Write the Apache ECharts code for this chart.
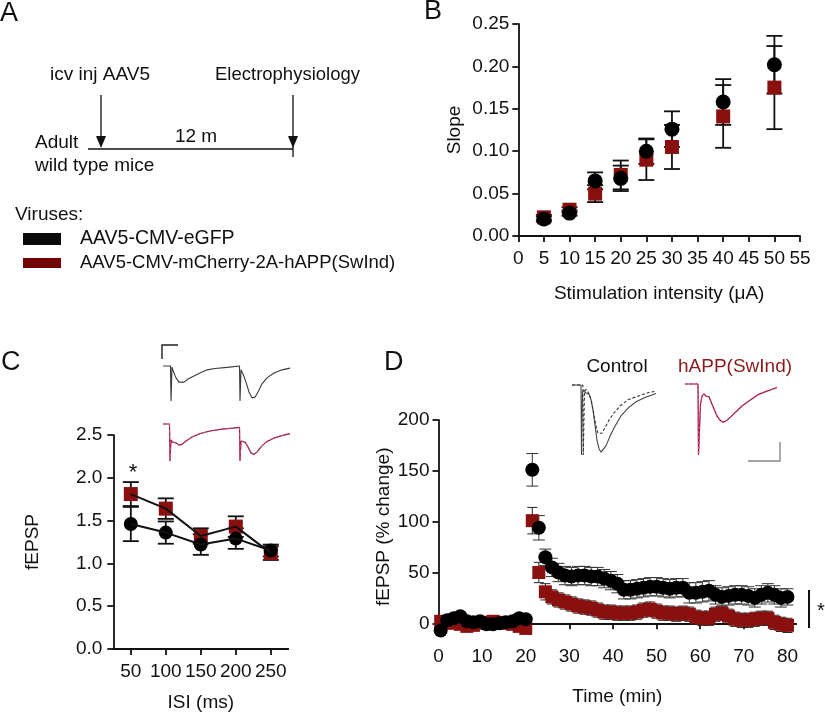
<!DOCTYPE html>
<html><head><meta charset="utf-8">
<script src="https://cdn.jsdelivr.net/npm/echarts@6/dist/echarts.min.js"></script>
<style>html,body{margin:0;padding:0;background:#fff}#c{width:825px;height:715px}</style>
</head><body><div id="c"></div>
<script>
// ---------- Panel B ----------
const bStim = [5, 10, 15, 20, 25, 30, 40, 50];
const bCtrl = [0.020, 0.027, 0.065, 0.068, 0.100, 0.126, 0.158, 0.202];
const bCtrlErr = [0.003, 0.003, 0.010, 0.015, 0.015, 0.021, 0.027, 0.034];
const bHapp = [0.022, 0.031, 0.050, 0.072, 0.090, 0.105, 0.141, 0.175];
const bHappErr = [0.003, 0.003, 0.010, 0.017, 0.024, 0.026, 0.037, 0.049];
// ---------- Panel C ----------
const cIsi = ['50', '100', '150', '200', '250'];
const cCtrl = [1.46, 1.36, 1.22, 1.29, 1.15];
const cCtrlErr = [0.20, 0.13, 0.12, 0.12, 0.07];
const cHapp = [1.81, 1.64, 1.32, 1.43, 1.12];
const cHappErr = [0.14, 0.12, 0.09, 0.12, 0.08];
// ---------- Panel D ----------
const dTime = [0.5,2,3.5,5,6.5,8,9.5,11,12.5,14,15.5,17,18.5,20,
  21.5,23,24.5,26,27.5,29,30.5,32,33.5,35,36.5,38,39.5,41,42.5,44,45.5,47,48.5,50,
  51.5,53,54.5,56,57.5,59,60.5,62,63.5,65,66.5,68,69.5,71,72.5,74,75.5,77,78.5,80];
const dCtrl = [-7,3,5,7,2,1,2,-1,-1,0,1,2,5,4,
  151,94,65,55,50,47,46,47,47,46,46,44,42,39,33,33,34,35,36,36,
  35,34,35,35,30,30,31,32,28,26,27,28,28,27,25,28,30,28,25,26];
const dCtrlErr = [3,3,3,3,3,3,3,3,3,3,3,3,3,3,
  16,12,8,9,9,9,9,9,9,9,9,9,9,9,9,9,9,9,9,9,
  9,9,9,9,10,10,10,10,9,9,9,9,9,9,9,9,9,9,9,8];
const dHapp = [2,0,1,-1,-3,-2,0,1,2,1,0,-1,-3,-5,
  101,50,31,26,23,21,19,17,16,15,13,11,11,10,10,10,11,13,14,12,
  10,10,9,10,9,6,5,5,9,10,7,4,3,3,4,5,5,1,-1,-2];
const dHappErr = [3,3,3,3,3,3,3,3,3,3,3,3,3,3,
  13,10,8,7,7,7,7,7,7,7,7,7,7,7,7,7,7,7,7,7,
  7,7,7,7,7,7,7,7,7,7,7,7,7,7,7,7,7,7,7,7];
const dXTicks = [0,10,20,30,40,50,60,70,80];
const dYTicks = [0,50,100,150,200];
// ---------- Example traces (time ms, normalized amplitude) ----------
const cTrCtrlT = [0,7.5,8,9,10.5,13,16,18,21,25,30,37,44,52,64,76.5,77,78,80,83,86,89,92,95,99,104,111,119,127];
const cTrCtrlV = [0,0,-1,-0.03,-0.17,-0.34,-0.46,-0.49,-0.46,-0.37,-0.3,-0.2,-0.11,-0.07,-0.04,0,-1,-0.11,-0.23,-0.46,-0.74,-0.91,-0.89,-0.74,-0.51,-0.34,-0.2,-0.11,-0.06];
const cTrHappT = [0,6.5,7,8,9.5,11,13,16,19,23,29,37,47,59,70,76.5,77,78,80,82,85,88,91,94,98,103,110,118,127];
const cTrHappV = [0,0,-1,-0.43,-0.49,-0.46,-0.51,-0.57,-0.55,-0.46,-0.35,-0.26,-0.19,-0.14,-0.11,-0.09,-1,-0.46,-0.51,-0.49,-0.62,-0.78,-0.82,-0.76,-0.62,-0.49,-0.39,-0.32,-0.26];
const dTrCtrlT = [0,9,9.5,10.5,12,13.5,15,17,19,21,23,25,27,29,31,34,38,43,49,56,64,73,84];
const dTrCtrlV = [0,0,-1,-0.1,-0.07,-0.11,-0.09,-0.13,-0.21,-0.36,-0.57,-0.79,-0.91,-0.96,-0.94,-0.87,-0.73,-0.59,-0.44,-0.33,-0.24,-0.18,-0.12];
const dTrCtrlPostT = [0,10.8,11.3,12.5,14,16,18,20,22,24,26,28,30,33,37,42,48,56,66,76,84];
const dTrCtrlPostV = [0,0,-1,-0.09,-0.06,-0.1,-0.16,-0.27,-0.43,-0.59,-0.69,-0.71,-0.69,-0.61,-0.5,-0.4,-0.3,-0.21,-0.16,-0.11,-0.09];
const dTrHappT = [0,13,13.5,14.5,15.5,17,19,21,22.5,24,26,29,32,35,38,42,46,51,57,65,73,82,92];
const dTrHappV = [0,0,-1,-1,-0.28,-0.17,-0.14,-0.17,-0.15,-0.18,-0.25,-0.35,-0.45,-0.51,-0.54,-0.51,-0.46,-0.39,-0.31,-0.23,-0.15,-0.1,-0.05];

const FONT = 'Liberation Sans, Arial, Helvetica, sans-serif';
const RED = '#8a1010';
const INK = '#111';
const TS = 19;   // tick label size
const NS = 19;   // axis name size

function zip(a, b, c) { return a.map((v, i) => c ? [v, b[i], c[i]] : [v, b[i]]); }
function idxZip(b, c) { return b.map((v, i) => [i, v, c[i]]); }

function errBar(capHalf, color, width) {
  return function (params, api) {
    const x = api.value(0), y = api.value(1), e = api.value(2);
    const hi = api.coord([x, y + e]), lo = api.coord([x, y - e]);
    const st = { stroke: color, lineWidth: width };
    return { type: 'group', children: [
      { type: 'line', shape: { x1: hi[0], y1: hi[1], x2: lo[0], y2: lo[1] }, style: st },
      { type: 'line', shape: { x1: hi[0] - capHalf, y1: hi[1], x2: hi[0] + capHalf, y2: hi[1] }, style: st },
      { type: 'line', shape: { x1: lo[0] - capHalf, y1: lo[1], x2: lo[0] + capHalf, y2: lo[1] }, style: st }
    ]};
  };
}

const axLine = { show: true, lineStyle: { color: INK, width: 1.8 } };
const axTick = { show: true, length: 6, lineStyle: { color: INK, width: 1.8 } };
const lbl = (extra) => Object.assign({ color: INK, fontSize: TS, fontFamily: FONT }, extra || {});
const nameSt = { color: INK, fontSize: NS, fontFamily: FONT };
const hiddenAxis = (gi, min, max) => ({ type: 'value', gridIndex: gi, min: min, max: max, show: false, splitLine: { show: false } });

const option = {
  backgroundColor: '#fff',
  animation: false,
  grid: [
    { left: 518.3, top: 24, width: 281.7, height: 212 },      // 0 B
    { left: 113.3, top: 435, width: 175, height: 214 },       // 1 C
    { left: 438.5, top: 420, width: 357.7, height: 213.5 },   // 2 D
    { left: 163, top: 359, width: 130, height: 42 },          // 3 C trace ctrl
    { left: 163, top: 416.6, width: 130, height: 44.4 },      // 4 C trace hAPP
    { left: 572, top: 378, width: 88, height: 77 },           // 5 D trace ctrl
    { left: 685, top: 376.9, width: 92, height: 78.1 }        // 6 D trace hAPP
  ],
  xAxis: [
    { type: 'value', gridIndex: 0, min: 0, max: 55, interval: 5, axisLine: axLine, axisTick: axTick,
      axisLabel: lbl({ margin: 13, hideOverlap: false }), splitLine: { show: false },
      name: 'Stimulation intensity (\u03bcA)', nameLocation: 'middle', nameGap: 48, nameTextStyle: nameSt, nameMoveOverlap: false },
    { type: 'category', gridIndex: 1, data: cIsi, boundaryGap: true, axisLine: axLine,
      axisTick: Object.assign({ alignWithLabel: true, interval: 0 }, axTick), axisLabel: lbl({ margin: 13, interval: 0, hideOverlap: false }),
      name: 'ISI (ms)', nameLocation: 'middle', nameGap: 44, nameTextStyle: nameSt, nameMoveOverlap: false },
    { type: 'value', gridIndex: 2, min: 0, max: 82, axisLine: axLine,
      axisTick: Object.assign({ customValues: dXTicks }, axTick),
      axisLabel: lbl({ margin: 14, customValues: dXTicks }), splitLine: { show: false },
      name: 'Time (min)', nameLocation: 'middle', nameGap: 54, nameTextStyle: nameSt, nameMoveOverlap: false },
    hiddenAxis(3, 0, 130), hiddenAxis(4, 0, 130), hiddenAxis(5, 0, 88), hiddenAxis(6, 0, 92)
  ],
  yAxis: [
    { type: 'value', gridIndex: 0, min: 0, max: 0.25, interval: 0.05, axisLine: axLine, axisTick: axTick,
      axisLabel: lbl({ margin: 9, formatter: v => v.toFixed(2) }), splitLine: { show: false },
      name: 'Slope', nameLocation: 'middle', nameGap: 54, nameTextStyle: nameSt, nameMoveOverlap: false },
    { type: 'value', gridIndex: 1, min: 0, max: 2.5, interval: 0.5, axisLine: axLine, axisTick: axTick,
      axisLabel: lbl({ margin: 11, formatter: v => v.toFixed(1) }), splitLine: { show: false },
      name: 'fEPSP', nameLocation: 'middle', nameGap: 71, nameTextStyle: nameSt, nameMoveOverlap: false },
    { type: 'value', gridIndex: 2, min: -10, max: 200, axisLine: axLine,
      axisTick: Object.assign({ customValues: dYTicks }, axTick),
      axisLabel: lbl({ margin: 9, customValues: dYTicks }), splitLine: { show: false },
      name: 'fEPSP (% change)', nameLocation: 'middle', nameGap: 45, nameTextStyle: nameSt, nameMoveOverlap: false },
    hiddenAxis(3, -1.0, 0.2), hiddenAxis(4, -1.0, 0.2), hiddenAxis(5, -1.0, 0.1), hiddenAxis(6, -1.0, 0.1)
  ],
  series: [
    // Panel B
    { type: 'scatter', xAxisIndex: 0, yAxisIndex: 0, data: zip(bStim, bHapp), symbol: 'rect', symbolSize: 14, itemStyle: { color: RED, opacity: 1 } },
    { type: 'custom', xAxisIndex: 0, yAxisIndex: 0, data: zip(bStim, bHapp, bHappErr), renderItem: errBar(8, INK, 1.8), encode: { x: 0, y: 1 } },
    { type: 'scatter', xAxisIndex: 0, yAxisIndex: 0, data: zip(bStim, bCtrl), symbol: 'circle', symbolSize: 15, itemStyle: { color: '#000', opacity: 1 } },
    { type: 'custom', xAxisIndex: 0, yAxisIndex: 0, data: zip(bStim, bCtrl, bCtrlErr), renderItem: errBar(8, INK, 1.8), encode: { x: 0, y: 1 } },
    // Panel C
    { type: 'line', xAxisIndex: 1, yAxisIndex: 1, data: cHapp, showSymbol: false, lineStyle: { color: INK, width: 2 } },
    { type: 'line', xAxisIndex: 1, yAxisIndex: 1, data: cCtrl, showSymbol: false, lineStyle: { color: INK, width: 2 } },
    { type: 'scatter', xAxisIndex: 1, yAxisIndex: 1, data: cHapp, symbol: 'rect', symbolSize: 14, itemStyle: { color: RED, opacity: 1 } },
    { type: 'custom', xAxisIndex: 1, yAxisIndex: 1, data: idxZip(cHapp, cHappErr), renderItem: errBar(8, INK, 1.8), encode: { x: 0, y: 1 } },
    { type: 'scatter', xAxisIndex: 1, yAxisIndex: 1, data: cCtrl, symbol: 'circle', symbolSize: 14, itemStyle: { color: '#000', opacity: 1 } },
    { type: 'custom', xAxisIndex: 1, yAxisIndex: 1, data: idxZip(cCtrl, cCtrlErr), renderItem: errBar(8, INK, 1.8), encode: { x: 0, y: 1 } },
    // Panel D
    { type: 'scatter', xAxisIndex: 2, yAxisIndex: 2, data: zip(dTime, dHapp), symbol: 'rect', symbolSize: 13, itemStyle: { color: RED, opacity: 1 } },
    { type: 'custom', xAxisIndex: 2, yAxisIndex: 2, data: zip(dTime, dHapp, dHappErr), renderItem: errBar(5, '#222', 1), encode: { x: 0, y: 1 } },
    { type: 'scatter', xAxisIndex: 2, yAxisIndex: 2, data: zip(dTime, dCtrl), symbol: 'circle', symbolSize: 14, itemStyle: { color: '#000', opacity: 1 } },
    { type: 'custom', xAxisIndex: 2, yAxisIndex: 2, data: zip(dTime, dCtrl, dCtrlErr), renderItem: errBar(6, '#333', 1), encode: { x: 0, y: 1 } },
    // traces
    { type: 'line', xAxisIndex: 3, yAxisIndex: 3, data: zip(cTrCtrlT, cTrCtrlV), showSymbol: false, lineStyle: { color: '#3a3a3a', width: 1.1 } },
    { type: 'line', xAxisIndex: 4, yAxisIndex: 4, data: zip(cTrHappT, cTrHappV), showSymbol: false, lineStyle: { color: '#8b1a2a', width: 1.2 } },
    { type: 'line', xAxisIndex: 4, yAxisIndex: 4, data: zip(cTrHappT, cTrHappV), showSymbol: false, lineStyle: { color: '#d0448e', width: 1, type: 'dashed' } },
    { type: 'line', xAxisIndex: 5, yAxisIndex: 5, data: zip(dTrCtrlT, dTrCtrlV), showSymbol: false, lineStyle: { color: '#444', width: 1.1 } },
    { type: 'line', xAxisIndex: 5, yAxisIndex: 5, data: zip(dTrCtrlPostT, dTrCtrlPostV), showSymbol: false, lineStyle: { color: '#333', width: 1.1, type: [3, 2] } },
    { type: 'line', xAxisIndex: 6, yAxisIndex: 6, data: zip(dTrHappT, dTrHappV), showSymbol: false, lineStyle: { color: '#8b1a2a', width: 1.2 } },
    { type: 'line', xAxisIndex: 6, yAxisIndex: 6, data: zip(dTrHappT, dTrHappV), showSymbol: false, lineStyle: { color: '#d63a8f', width: 1.1, type: [3, 2] } }
  ],
  graphic: [
    // panel letters
    { type: 'text', left: 0, top: 0, style: { text: 'A', fontSize: 27, fontFamily: FONT, fill: INK } },
    { type: 'text', left: 424, top: -2, style: { text: 'B', fontSize: 27, fontFamily: FONT, fill: INK } },
    { type: 'text', left: 1, top: 349, style: { text: 'C', fontSize: 27, fontFamily: FONT, fill: INK } },
    { type: 'text', left: 384, top: 349, style: { text: 'D', fontSize: 27, fontFamily: FONT, fill: INK } },
    // panel A timeline
    { type: 'text', x: 50, y: 75, style: { text: 'icv inj AAV5', fontSize: 19, fontFamily: FONT, fill: INK, verticalAlign: 'middle' } },
    { type: 'text', x: 215, y: 75, style: { text: 'Electrophysiology', fontSize: 18.5, fontFamily: FONT, fill: INK, verticalAlign: 'middle' } },
    { type: 'line', shape: { x1: 101, y1: 95, x2: 101, y2: 140 }, style: { stroke: INK, lineWidth: 1.3 } },
    { type: 'polygon', shape: { points: [[96, 136], [106, 136], [101, 148]] }, style: { fill: INK } },
    { type: 'line', shape: { x1: 293, y1: 95, x2: 293, y2: 157 }, style: { stroke: INK, lineWidth: 1.3 } },
    { type: 'polygon', shape: { points: [[288, 136], [298, 136], [293, 148]] }, style: { fill: INK } },
    { type: 'line', shape: { x1: 88, y1: 149, x2: 293, y2: 149 }, style: { stroke: INK, lineWidth: 1.3 } },
    { type: 'text', x: 196, y: 137, style: { text: '12 m', fontSize: 19, fontFamily: FONT, fill: INK, align: 'center', verticalAlign: 'middle' } },
    { type: 'text', x: 35, y: 143, style: { text: 'Adult', fontSize: 19, fontFamily: FONT, fill: INK, verticalAlign: 'middle' } },
    { type: 'text', x: 35, y: 166, style: { text: 'wild type mice', fontSize: 19, fontFamily: FONT, fill: INK, verticalAlign: 'middle' } },
    { type: 'text', x: 15, y: 215, style: { text: 'Viruses:', fontSize: 19, fontFamily: FONT, fill: INK, verticalAlign: 'middle' } },
    { type: 'rect', shape: { x: 23, y: 233, width: 38, height: 12 }, style: { fill: '#0a0a0a' } },
    { type: 'text', x: 80, y: 239, style: { text: 'AAV5-CMV-eGFP', fontSize: 19.5, fontFamily: FONT, fill: INK, verticalAlign: 'middle' } },
    { type: 'rect', shape: { x: 23, y: 258, width: 38, height: 10 }, style: { fill: '#720404' } },
    { type: 'text', x: 80, y: 263, style: { text: 'AAV5-CMV-mCherry-2A-hAPP(SwInd)', fontSize: 18.5, fontFamily: FONT, fill: INK, verticalAlign: 'middle' } },
    // panel C annotations
    { type: 'text', x: 133, y: 473, style: { text: '*', fontSize: 22, fontFamily: FONT, fill: INK, align: 'center', verticalAlign: 'middle' } },
    { type: 'polyline', shape: { points: [[178, 345], [162, 345], [162, 359]] }, style: { stroke: '#222', lineWidth: 1.4, fill: null } },
    // panel D annotations
    { type: 'text', x: 617, y: 367, style: { text: 'Control', fontSize: 19, fontFamily: FONT, fill: INK, align: 'center', verticalAlign: 'middle' } },
    { type: 'text', x: 735, y: 367, style: { text: 'hAPP(SwInd)', fontSize: 19, fontFamily: FONT, fill: '#8b1a1a', align: 'center', verticalAlign: 'middle' } },
    { type: 'polyline', shape: { points: [[748, 461], [780, 461], [780, 442]] }, style: { stroke: '#888', lineWidth: 1.4, fill: null } },
    { type: 'line', shape: { x1: 809, y1: 590, x2: 809, y2: 628 }, style: { stroke: INK, lineWidth: 2 } },
    { type: 'text', x: 821, y: 611, style: { text: '*', fontSize: 20, fontFamily: FONT, fill: INK, align: 'center', verticalAlign: 'middle' } }
  ]
};

const chart = echarts.init(document.getElementById('c'), null, { renderer: 'canvas' });
chart.setOption(option);
</script></body></html>
